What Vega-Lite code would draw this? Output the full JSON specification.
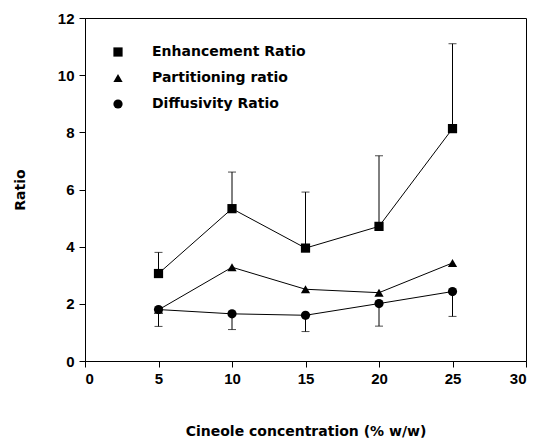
{
  "$schema": "https://vega.github.io/schema/vega-lite/v6.json",
  "width": 441,
  "height": 343,
  "autosize": "none",
  "padding": {"left": 85, "top": 18, "right": 10, "bottom": 77},
  "background": "white",
  "config": {
    "view": {"stroke": "black", "strokeWidth": 1},
    "font": "Liberation Sans",
    "axis": {
      "grid": false,
      "domainColor": "black",
      "tickColor": "black",
      "labelColor": "black",
      "titleColor": "black",
      "labelFont": "Liberation Sans",
      "labelFontWeight": "bold",
      "labelFontSize": 15,
      "titleFont": "DejaVu Sans",
      "titleFontWeight": "bold",
      "titleFontSize": 14,
      "tickSize": 6
    }
  },
  "data": {
    "values": [
      {"conc": 5, "series": "Enhancement Ratio", "value": 3.06, "err": 3.80},
      {"conc": 10, "series": "Enhancement Ratio", "value": 5.33, "err": 6.61},
      {"conc": 15, "series": "Enhancement Ratio", "value": 3.95, "err": 5.91},
      {"conc": 20, "series": "Enhancement Ratio", "value": 4.71, "err": 7.18},
      {"conc": 25, "series": "Enhancement Ratio", "value": 8.13, "err": 11.1},
      {"conc": 5, "series": "Partitioning ratio", "value": 1.79, "err": null},
      {"conc": 10, "series": "Partitioning ratio", "value": 3.28, "err": null},
      {"conc": 15, "series": "Partitioning ratio", "value": 2.51, "err": null},
      {"conc": 20, "series": "Partitioning ratio", "value": 2.39, "err": null},
      {"conc": 25, "series": "Partitioning ratio", "value": 3.43, "err": null},
      {"conc": 5, "series": "Diffusivity Ratio", "value": 1.80, "err": 1.21},
      {"conc": 10, "series": "Diffusivity Ratio", "value": 1.65, "err": 1.10},
      {"conc": 15, "series": "Diffusivity Ratio", "value": 1.60, "err": 1.03},
      {"conc": 20, "series": "Diffusivity Ratio", "value": 2.01, "err": 1.22},
      {"conc": 25, "series": "Diffusivity Ratio", "value": 2.43, "err": 1.56}
    ]
  },
  "encoding": {
    "x": {
      "field": "conc", "type": "quantitative",
      "scale": {"domain": [0, 30], "nice": false, "zero": false},
      "axis": {"values": [0, 5, 10, 15, 20, 25, 30], "title": "Cineole concentration (% w/w)", "titlePadding": 38, "labelPadding": 4}
    },
    "y": {
      "field": "value", "type": "quantitative",
      "scale": {"domain": [0, 12], "nice": false},
      "axis": {"values": [0, 2, 4, 6, 8, 10, 12], "title": "Ratio", "titlePadding": 30, "labelPadding": 5}
    }
  },
  "layer": [
    {
      "mark": {"type": "line", "color": "black", "strokeWidth": 1},
      "encoding": {"detail": {"field": "series"}}
    },
    {
      "transform": [{"filter": "datum.err != null"}],
      "mark": {"type": "rule", "color": "black", "strokeWidth": 1},
      "encoding": {"y2": {"field": "err"}}
    },
    {
      "transform": [{"filter": "datum.err != null"}],
      "mark": {"type": "tick", "orient": "horizontal", "color": "black", "size": 8, "thickness": 1},
      "encoding": {"y": {"field": "err", "type": "quantitative"}}
    },
    {
      "mark": {"type": "point", "filled": true, "color": "black", "opacity": 1, "size": 85},
      "encoding": {
        "shape": {
          "field": "series", "type": "nominal",
          "scale": {"domain": ["Enhancement Ratio", "Partitioning ratio", "Diffusivity Ratio"], "range": ["square", "triangle-up", "circle"]},
          "legend": {
            "title": null,
            "orient": "none",
            "legendX": 26,
            "legendY": 27,
            "padding": 0,
            "symbolFillColor": "black",
            "symbolStrokeColor": "black",
            "symbolSize": 85,
            "symbolOpacity": 1,
            "labelFont": "DejaVu Sans",
            "labelFontWeight": "bold",
            "labelFontSize": 14,
            "labelColor": "black",
            "labelOffset": 27,
            "rowPadding": 11
          }
        }
      }
    }
  ]
}
